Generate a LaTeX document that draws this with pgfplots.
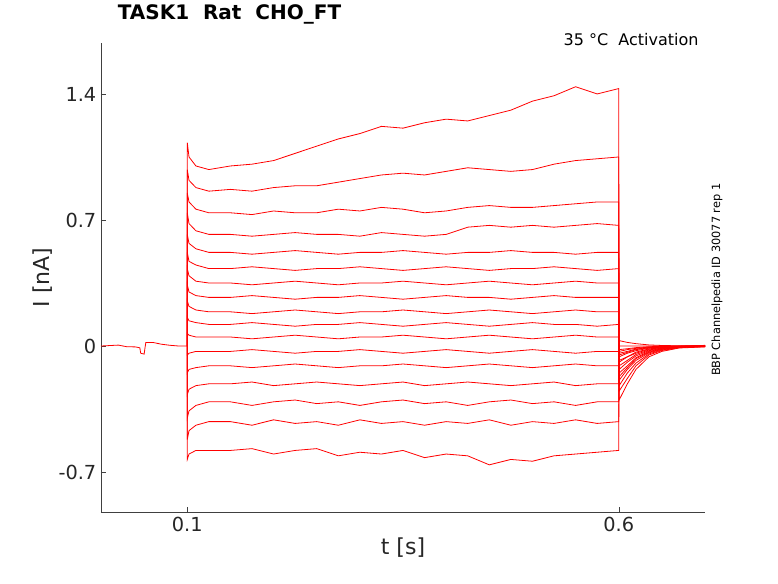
\documentclass[border=0pt]{standalone}
\usepackage{pgfplots}
\pgfplotsset{compat=1.18}
\usepackage{pgfplotstable}
\usepackage{fontspec}
\setmainfont{DejaVu Sans}
\pgfplotstableread{
x T1 T2 T3 T4 T5 T6 T7 T8 T9 T10 T11 T12 T13 T14 T15 T16 T17
0.0999 0 0 0 0 0 0 0 0 0 0 0 0 0 0 0 0 0
0.1 1.13 0.98 0.85 0.74 0.62 0.52 0.43 0.34 0.25 0.16 0.07 -0.05 -0.15 -0.27 -0.40 -0.52 -0.63
0.102 1.05 0.92 0.80 0.68 0.57 0.47 0.39 0.30 0.22 0.14 0.06 -0.04 -0.13 -0.24 -0.36 -0.47 -0.60
0.11 1.00 0.88 0.76 0.64 0.54 0.45 0.36 0.28 0.20 0.13 0.05 -0.03 -0.12 -0.22 -0.33 -0.44 -0.58
0.125 0.98 0.86 0.74 0.62 0.52 0.43 0.35 0.27 0.19 0.12 0.05 -0.03 -0.11 -0.21 -0.31 -0.42 -0.58
0.15 1.00 0.87 0.74 0.62 0.52 0.43 0.35 0.27 0.19 0.12 0.05 -0.03 -0.11 -0.21 -0.31 -0.42 -0.58
0.175 1.01 0.86 0.73 0.61 0.51 0.44 0.34 0.28 0.18 0.13 0.04 -0.02 -0.12 -0.20 -0.33 -0.44 -0.57
0.2 1.03 0.88 0.75 0.62 0.52 0.43 0.35 0.27 0.19 0.12 0.05 -0.03 -0.11 -0.22 -0.31 -0.41 -0.60
0.225 1.07 0.89 0.74 0.63 0.53 0.42 0.36 0.26 0.20 0.11 0.06 -0.04 -0.10 -0.21 -0.30 -0.43 -0.58
0.25 1.11 0.89 0.74 0.62 0.52 0.43 0.35 0.27 0.19 0.12 0.05 -0.03 -0.11 -0.20 -0.32 -0.42 -0.57
0.275 1.15 0.91 0.76 0.62 0.51 0.43 0.34 0.27 0.18 0.12 0.04 -0.03 -0.12 -0.21 -0.31 -0.44 -0.61
0.3 1.18 0.93 0.75 0.61 0.52 0.44 0.35 0.28 0.19 0.13 0.05 -0.02 -0.11 -0.22 -0.33 -0.41 -0.59
0.325 1.22 0.95 0.77 0.63 0.52 0.43 0.35 0.27 0.19 0.12 0.05 -0.03 -0.11 -0.21 -0.31 -0.43 -0.60
0.35 1.21 0.96 0.76 0.62 0.53 0.42 0.36 0.26 0.20 0.11 0.06 -0.04 -0.10 -0.20 -0.30 -0.42 -0.58
0.375 1.24 0.95 0.74 0.61 0.52 0.43 0.35 0.27 0.19 0.12 0.05 -0.03 -0.11 -0.22 -0.32 -0.44 -0.62
0.4 1.26 0.97 0.75 0.62 0.51 0.44 0.34 0.28 0.18 0.13 0.04 -0.02 -0.12 -0.21 -0.31 -0.42 -0.60
0.425 1.25 0.99 0.77 0.66 0.52 0.43 0.35 0.27 0.19 0.12 0.05 -0.03 -0.11 -0.20 -0.33 -0.43 -0.61
0.45 1.28 0.98 0.78 0.67 0.52 0.42 0.36 0.27 0.20 0.11 0.06 -0.04 -0.10 -0.21 -0.31 -0.41 -0.66
0.475 1.31 0.97 0.77 0.66 0.53 0.43 0.35 0.26 0.19 0.12 0.05 -0.03 -0.11 -0.22 -0.30 -0.44 -0.63
0.5 1.36 0.98 0.77 0.67 0.52 0.43 0.34 0.27 0.18 0.13 0.04 -0.02 -0.12 -0.21 -0.32 -0.42 -0.64
0.525 1.39 1.01 0.78 0.66 0.52 0.44 0.35 0.28 0.19 0.12 0.05 -0.03 -0.11 -0.20 -0.31 -0.43 -0.61
0.55 1.44 1.03 0.79 0.67 0.51 0.43 0.36 0.27 0.20 0.12 0.06 -0.04 -0.10 -0.22 -0.33 -0.41 -0.60
0.575 1.40 1.04 0.80 0.68 0.52 0.42 0.35 0.27 0.19 0.11 0.05 -0.03 -0.11 -0.21 -0.31 -0.43 -0.59
0.6 1.43 1.05 0.80 0.67 0.52 0.43 0.35 0.27 0.19 0.12 0.05 -0.03 -0.11 -0.21 -0.31 -0.42 -0.58
0.6005 -0.30 -0.25 -0.22 -0.19 -0.17 -0.15 -0.13 -0.11 -0.09 -0.08 -0.06 -0.05 -0.04 -0.03 -0.02 0.00 0.03
0.61 -0.21 -0.18 -0.15 -0.13 -0.12 -0.11 -0.09 -0.08 -0.06 -0.06 -0.04 -0.035 -0.03 -0.02 -0.015 0.00 0.02
0.62 -0.13 -0.11 -0.095 -0.08 -0.07 -0.065 -0.055 -0.047 -0.04 -0.034 -0.026 -0.02 -0.017 -0.013 -0.009 0.00 0.013
0.635 -0.06 -0.05 -0.044 -0.038 -0.034 -0.03 -0.026 -0.022 -0.018 -0.016 -0.012 -0.01 -0.008 -0.006 -0.004 0.00 0.006
0.65 -0.03 -0.025 -0.022 -0.019 -0.017 -0.015 -0.013 -0.011 -0.009 -0.008 -0.006 -0.005 -0.004 -0.003 -0.002 0.00 0.003
0.67 -0.011 -0.009 -0.008 -0.007 -0.006 -0.005 -0.005 -0.004 -0.003 -0.003 -0.002 -0.002 -0.001 -0.001 -0.001 0.00 0.001
0.70 -0.005 -0.003 0.004 -0.002 0.003 -0.004 0.002 0 -0.003 0.002 0 0.003 -0.002 0 0.002 -0.001 0.001
}\traces
\begin{document}
\begin{tikzpicture}
\begin{axis}[
  at={(0,0)}, anchor=south west,
  scale only axis, width=453pt, height=351.75pt,
  xmin=0, xmax=0.7, ymin=-0.922, ymax=1.683,
  axis lines*=left, axis line style={black!75, line width=0.5pt},
  xtick={0.1,0.6}, ytick={-0.7,0,0.7,1.4},
  yticklabels={-0.7,0,0.7,1.4}, xticklabels={0.1,0.6},
  tick align=inside, major tick length=4pt, tick style={black!75},
  ticklabel style={font=\fontsize{14.5}{16}\selectfont, text=black!85},
  xlabel={t [s]}, ylabel={I [nA]},
  label style={font=\fontsize{16.5}{18}\selectfont, text=black!85},
  xlabel style={yshift=2pt}, ylabel style={yshift=-2pt},
  clip=false,
]
\addplot[red, line width=0.6pt, no markers, solid] coordinates {(0,0) (0.02,0.005) (0.03,-0.004) (0.04,-0.005) (0.045,-0.01) (0.046,-0.04) (0.05,-0.045) (0.051,-0.01) (0.052,0.02) (0.06,0.02) (0.07,0.01) (0.08,0.004) (0.09,0) (0.0999,0)};
\pgfplotsinvokeforeach{1,...,17}{
  \addplot[red, line width=0.6pt, no markers, solid] table[x index=0, y index=#1] {\traces};
}
\node[anchor=base west, font=\fontsize{15}{17}\selectfont\bfseries] at (rel axis cs:0.02,1.05) {TASK1\ \ Rat\ \ CHO\_FT};
\node[anchor=south east, font=\fontsize{12}{14}\selectfont] at (rel axis cs:0.997,0.985) {35 °C\ \ Activation};
\node[rotate=90, font=\fontsize{8.5}{10}\selectfont] at (rel axis cs:1.02,0.495) {BBP Channelpedia ID 30077 rep 1};
\end{axis}
\path[use as bounding box] (-75.75pt,-53.25pt) rectangle (507.75pt,384pt);
\end{tikzpicture}
\end{document}
